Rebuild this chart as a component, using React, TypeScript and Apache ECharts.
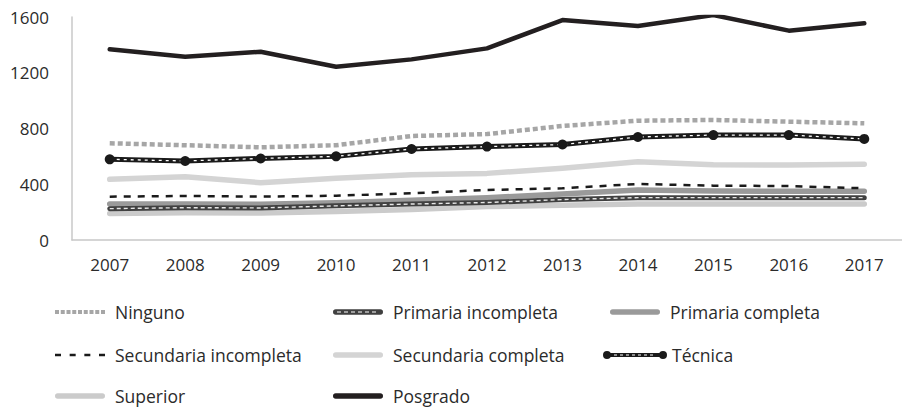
import React, { useEffect, useRef } from "react";
import * as echarts from "echarts";

const years = ["2007", "2008", "2009", "2010", "2011", "2012", "2013", "2014", "2015", "2016", "2017"];
const ninguno = [694, 680, 665, 680, 746, 760, 818, 856, 861, 849, 837];
const primariaIncompleta = [225, 232, 230, 245, 258, 269, 290, 304, 304, 304, 304];
const primariaCompleta = [258, 258, 256, 268, 285, 303, 330, 359, 352, 349, 349];
const secundariaIncompleta = [311, 316, 311, 318, 335, 359, 371, 402, 390, 387, 371];
const secundariaCompleta = [435, 454, 411, 443, 469, 478, 514, 562, 540, 538, 543];
const tecnica = [579, 567, 585, 600, 653, 670, 685, 739, 753, 753, 725];
const superior = [190, 195, 193, 205, 218, 240, 250, 258, 258, 258, 258];
const posgrado = [1368, 1315, 1351, 1243, 1296, 1375, 1578, 1535, 1614, 1502, 1555];
const yTicks = { min: 0, max: 1600, interval: 400 };

const FONT = "'Open Sans', 'Noto Sans', sans-serif";
const TEXT = "#2b2b2b";

// ---------- legend icon helpers (styles only) ----------
const frame = (w: number) => `M0 0 L0 20 Z M${w} 0 L${w} 20 Z`;
const bar = (x0: number, x1: number, cy: number, h: number) => {
  const r = h / 2;
  return `M${x0 + r} ${cy - r} L${x1 - r} ${cy - r} A${r} ${r} 0 0 1 ${x1 - r} ${cy + r} L${x0 + r} ${cy + r} A${r} ${r} 0 0 1 ${x0 + r} ${cy - r} Z`;
};
const hole = (x: number, y: number, w: number, h: number) =>
  `M${x} ${y} L${x} ${y + h} L${x + w} ${y + h} L${x + w} ${y} Z`;
const rect = (x: number, y: number, w: number, h: number) =>
  `M${x} ${y} L${x + w} ${y} L${x + w} ${y + h} L${x} ${y + h} Z`;

const iconSolid = "path://" + frame(55) + " " + bar(0, 50, 10, 5.5);
let ningunoP = frame(55);
for (let i = 0; i < 9; i++) ningunoP += " " + rect(i * 5.75, 8, 4, 4);
let secIncP = frame(55);
for (let i = 0; i < 4; i++) secIncP += " " + rect(i * 14.67, 8.75, 6, 2.5);
let primIncP = frame(55) + " " + bar(0, 50, 10, 5.5);
for (let x = 4; x < 45; x += 7) primIncP += " " + hole(x, 9.4, 4, 1.2);
let tecP =
  frame(64) +
  " M0 10 A4 4 0 1 1 8 10 A4 4 0 1 1 0 10 Z M56 10 A4 4 0 1 1 64 10 A4 4 0 1 1 56 10 Z " +
  rect(6, 8, 52, 4);
for (let x = 11; x < 52; x += 6) tecP += " " + hole(x, 9.4, 3, 1.2);

const legendDefs = [
  { name: "Ninguno", left: 55, cy: 312, w: 55, icon: "path://" + ningunoP },
  { name: "Primaria incompleta", left: 333, cy: 312, w: 55, icon: "path://" + primIncP },
  { name: "Primaria completa", left: 610, cy: 312, w: 55, icon: iconSolid },
  { name: "Secundaria incompleta", left: 55, cy: 355, w: 55, icon: "path://" + secIncP },
  { name: "Secundaria completa", left: 333, cy: 355, w: 55, icon: iconSolid },
  { name: "Técnica", left: 603, cy: 355, w: 64, icon: "path://" + tecP },
  { name: "Superior", left: 55, cy: 396, w: 55, icon: iconSolid },
  { name: "Posgrado", left: 333, cy: 396, w: 55, icon: iconSolid },
];

export default function App() {
  const ref = useRef<HTMLDivElement>(null);
  useEffect(() => {
    if (!ref.current) return;
    const chart = echarts.init(ref.current, undefined, { renderer: "svg" });
    const line = (name: string, data: number[], color: string, width: number, extra: any = {}) => ({
      type: "line",
      name,
      data,
      symbol: "none",
      showSymbol: false,
      silent: true,
      itemStyle: { color },
      lineStyle: { color, width, cap: "round", join: "round", ...(extra.lineStyle || {}) },
    });
    chart.setOption({
      animation: false,
      textStyle: { fontFamily: FONT },
      grid: { left: 72, top: 17, width: 839, height: 223 },
      xAxis: {
        type: "category",
        data: years,
        boundaryGap: true,
        axisLine: { show: true, lineStyle: { color: "#c8c8c8", width: 1.5 } },
        axisTick: { show: false },
        axisLabel: { margin: 16, fontSize: 17, color: TEXT, fontFamily: FONT },
        splitLine: { show: false },
      },
      yAxis: {
        type: "value",
        min: yTicks.min,
        max: yTicks.max,
        interval: yTicks.interval,
        axisLine: { show: true, lineStyle: { color: "#c8c8c8", width: 1.5 } },
        axisTick: { show: false },
        axisLabel: {
          margin: 23,
          fontSize: 17,
          color: TEXT,
          fontFamily: FONT,
          formatter: (v: number) => String(v),
        },
        splitLine: { show: false },
      },
      legend: legendDefs.map((d) => ({
        data: [d.name],
        left: d.left,
        top: d.cy - 10,
        padding: 0,
        itemWidth: d.w,
        itemHeight: 20,
        itemGap: 0,
        icon: d.icon,
        selectedMode: false,
        itemStyle: { borderWidth: 0 },
        textStyle: { fontSize: 17.5, color: TEXT, fontFamily: FONT },
      })),
      series: [
        line("Superior", superior, "#cbcbcb", 5.5),
        line("Primaria completa", primariaCompleta, "#9a9a9a", 5.5),
        line("Primaria incompleta", primariaIncompleta, "#404040", 5),
        line("_pi_overlay", primariaIncompleta, "#e6e6e6", 1.4, {
          lineStyle: { type: [4, 3], cap: "butt" },
        }),
        line("Secundaria incompleta", secundariaIncompleta, "#1a1a1a", 2.5, {
          lineStyle: { type: [7, 7], cap: "butt" },
        }),
        line("Secundaria completa", secundariaCompleta, "#d4d4d4", 5.5),
        line("Ninguno", ninguno, "#a6a6a6", 4.5, { lineStyle: { type: [5, 3], cap: "butt" } }),
        line("Técnica", tecnica, "#1a1a1a", 5),
        line("_tec_overlay", tecnica, "#ffffff", 1.3, { lineStyle: { type: [3, 4], cap: "butt" } }),
        {
          type: "line",
          name: "_tec_markers",
          data: tecnica,
          symbol: "circle",
          symbolSize: 10,
          showSymbol: true,
          silent: true,
          itemStyle: { color: "#1a1a1a", borderWidth: 0 },
          lineStyle: { width: 0, opacity: 0 },
        },
        line("Posgrado", posgrado, "#231f20", 4.5),
      ],
    });
    return () => chart.dispose();
  }, []);
  return (
    <div
      ref={ref}
      style={{ position: "fixed", left: 0, top: 0, width: 902, height: 408, background: "#fff" }}
    />
  );
}
